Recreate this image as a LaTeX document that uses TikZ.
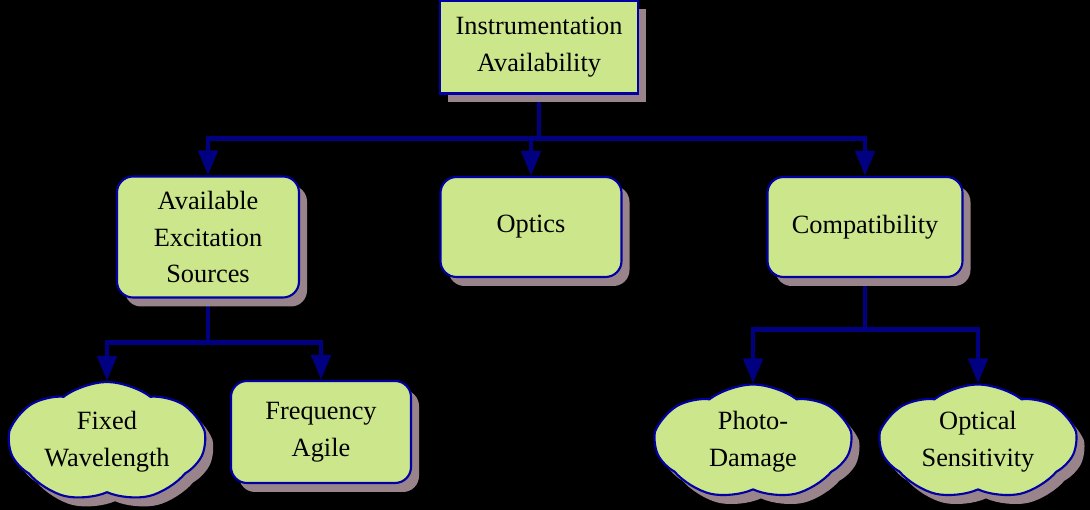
\documentclass[tikz,border=0pt]{standalone}
\usepackage{fontspec}
\setmainfont{Liberation Serif}
\usetikzlibrary{arrows.meta,shapes.symbols,shadows,calc}
\definecolor{leafgreen}{RGB}{204,230,140}
\definecolor{edgeblue}{RGB}{0,0,165}
\definecolor{linknavy}{RGB}{0,0,128}
\definecolor{shademauve}{RGB}{152,132,138}
\pgfdeclarelayer{canvas}
\pgfdeclarelayer{background}
\pgfsetlayers{canvas,background,main}

\begin{document}
\begin{tikzpicture}[
    every node/.style={font=\fontsize{15}{21}\selectfont},
    boxshadow/.style={drop shadow={shadow xshift=0.16cm, shadow yshift=-0.18cm, fill=shademauve, opacity=1}},
    topbox/.style={draw=edgeblue, line width=1.2pt, fill=leafgreen, align=center, minimum width=3.96cm, minimum height=1.86cm, boxshadow},
    box/.style={draw=edgeblue, line width=1.2pt, fill=leafgreen, align=center, rounded corners=0.32cm, minimum width=3.64cm, minimum height=2cm, boxshadow},
    leaf/.style={cloud, cloud puffs=7, cloud puff arc=75, aspect=1.7, draw=edgeblue, line width=1.2pt, fill=leafgreen, align=center, minimum width=3.9cm, minimum height=2.3cm, inner sep=0pt, boxshadow},
    link/.style={-{Triangle[length=5mm, width=3.8mm]}, line width=2.8pt, draw=linknavy}
]
\begin{pgfonlayer}{canvas}
\fill[black] (0,0) rectangle (21.8,10.2);
\end{pgfonlayer}
\useasboundingbox (0,0) rectangle (21.8,10.2);

\node[topbox] (instr) at (10.78,9.26) {Instrumentation\\Availability};
\node[box, minimum height=2.42cm] (sources) at (4.16,5.46) {Available\\Excitation\\Sources};
\node[box, minimum width=3.62cm] (optics) at (10.62,5.66) {Optics};
\node[box, minimum width=3.9cm] (compat) at (17.30,5.66) {Compatibility};
\node[box, minimum width=3.6cm, minimum height=2.04cm] (agile) at (6.42,1.56) {Frequency\\Agile};
\node[leaf] (fixed) at (2.14,1.36) {Fixed\\Wavelength};
\node[leaf] (damage) at (15.06,1.36) {Photo-\\Damage};
\node[leaf] (sensitiv) at (19.56,1.36) {Optical\\Sensitivity};

\coordinate (instrbus) at ($(instr.south)+(0,-0.87)$);
\coordinate (sourcebus) at ($(sources.south)+(0,-0.87)$);
\coordinate (compatbus) at ($(compat.south)+(0,-1.02)$);

\begin{pgfonlayer}{background}
\draw[link] (instr.south) -- (instrbus) -| (sources.north);
\draw[link] (instrbus) -| (optics.north);
\draw[link] (instrbus) -| (compat.north);
\draw[link] (sources.south) -- (sourcebus) -| (fixed.north);
\draw[link] (sourcebus) -| (agile.north);
\draw[link] (compat.south) -- (compatbus) -| (damage.north);
\draw[link] (compatbus) -| (sensitiv.north);
\end{pgfonlayer}
\end{tikzpicture}
\end{document}
